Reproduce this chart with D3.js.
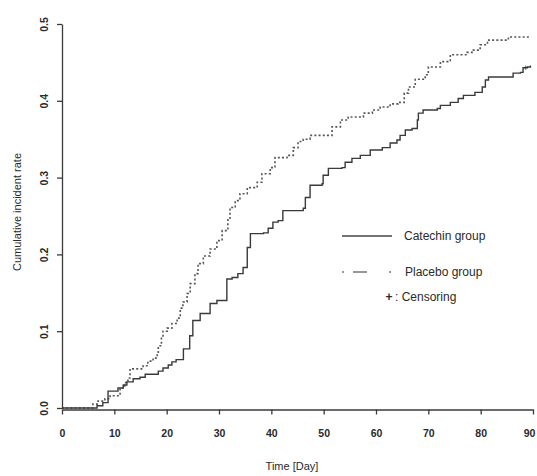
<!DOCTYPE html>
<html>
<head>
<meta charset="utf-8">
<script src="https://cdn.jsdelivr.net/npm/d3@7"></script>
<style>
  body { margin: 0; background: #fff; }
  text { font-family: "Liberation Sans", Arial, sans-serif; fill: #2a2a2a; }
</style>
</head>
<body>
<svg class="km-chart" width="537" height="476"></svg>
<script>
// step points: [day, cumulative incident rate]
var catechinSteps = [
  [0, 0], [6.7, 0.003], [7.8, 0.007], [8.8, 0.022], [10.7, 0.026], [11.7, 0.03],
  [12.4, 0.034], [13.6, 0.038], [14.9, 0.04], [15.9, 0.044], [18.4, 0.048],
  [19.3, 0.052], [20.3, 0.056], [21.0, 0.06], [21.8, 0.063], [23.2, 0.077],
  [24.4, 0.094], [25.0, 0.114], [26.4, 0.123], [28.3, 0.136], [29.6, 0.14],
  [31.5, 0.168], [32.5, 0.17], [33.6, 0.175], [34.6, 0.183], [35.4, 0.209],
  [36.0, 0.227], [38.5, 0.228], [39.4, 0.234], [40.3, 0.242], [41.3, 0.244],
  [42.2, 0.257], [46.1, 0.26], [46.5, 0.274], [47.4, 0.29], [49.7, 0.292],
  [49.9, 0.303], [50.9, 0.312], [53.5, 0.313], [54.1, 0.32], [55.4, 0.325],
  [57.0, 0.329], [58.9, 0.336], [61.2, 0.339], [62.7, 0.345], [64.0, 0.349],
  [64.6, 0.355], [65.6, 0.362], [66.9, 0.364], [67.9, 0.375], [68.1, 0.384],
  [69.0, 0.388], [71.7, 0.39], [72.3, 0.394], [74.2, 0.398], [75.7, 0.403],
  [76.7, 0.407], [78.9, 0.411], [80.3, 0.418], [80.9, 0.427], [81.5, 0.431],
  [86.2, 0.436], [87.6, 0.437], [88.1, 0.443], [88.9, 0.444], [89.5, 0.446]
];
var placeboSteps = [
  [0, 0], [5.9, 0.005], [6.9, 0.009], [8.2, 0.012], [9.2, 0.016], [11.1, 0.026],
  [12.0, 0.033], [12.6, 0.039], [13.0, 0.051], [15.5, 0.055], [16.4, 0.061],
  [17.4, 0.065], [18.2, 0.07], [18.4, 0.081], [19.0, 0.092], [19.3, 0.1],
  [20.1, 0.104], [21.0, 0.11], [22.0, 0.117], [22.6, 0.13], [23.1, 0.138],
  [23.9, 0.149], [24.5, 0.162], [25.4, 0.175], [26.0, 0.188], [27.0, 0.198],
  [28.3, 0.207], [29.6, 0.218], [30.6, 0.231], [31.7, 0.247], [32.1, 0.261],
  [33.1, 0.27], [34.0, 0.279], [35.4, 0.287], [37.3, 0.294], [38.2, 0.305],
  [39.8, 0.313], [40.7, 0.326], [43.0, 0.329], [44.2, 0.339], [45.1, 0.347],
  [46.1, 0.35], [47.4, 0.355], [51.6, 0.366], [53.2, 0.375], [54.7, 0.379],
  [57.6, 0.384], [59.3, 0.388], [60.8, 0.392], [62.7, 0.396], [64.2, 0.398],
  [65.4, 0.41], [66.2, 0.418], [67.5, 0.428], [69.4, 0.434], [70.0, 0.444],
  [72.3, 0.451], [74.2, 0.46], [77.4, 0.463], [78.6, 0.466], [79.9, 0.473],
  [81.3, 0.479], [85.3, 0.483], [89.5, 0.483]
];
var catechinCensor = [[88.6, 0.444]];
var xTicks = [0, 10, 20, 30, 40, 50, 60, 70, 80, 90];
var yTicks = [0, 0.1, 0.2, 0.3, 0.4, 0.5];
var legendLabels = ["Catechin group", "Placebo group", ": Censoring"];

var svg = d3.select(".km-chart");
var x = d3.scaleLinear().domain([0, 90]).range([62, 533]);
var y = d3.scaleLinear().domain([0, 0.5]).range([408, 24]);

// axes
var xAxis = svg.append("g")
  .attr("transform", "translate(0," + (y(0) + 1.5) + ")")
  .call(d3.axisBottom(x).tickValues(xTicks).tickSize(5).tickSizeOuter(0).tickPadding(15));
var yAxis = svg.append("g")
  .attr("transform", "translate(62,0)")
  .call(d3.axisLeft(y).tickValues(yTicks).tickSize(5).tickSizeOuter(0).tickFormat(d3.format(".1f")));

[xAxis, yAxis].forEach(function(a) {
  a.selectAll("path, line").attr("stroke", "#3a3a3a").attr("stroke-width", 1.3);
  a.selectAll("text").attr("font-size", 10.5).attr("font-weight", "bold").attr("fill", "#2a2a2a");
});
// last label sits on the right edge, keep it inside
xAxis.selectAll(".tick text").filter(function(d) { return d === 90; }).attr("dx", -4);
yAxis.selectAll(".tick text")
  .attr("x", null).attr("dy", null)
  .attr("text-anchor", "middle")
  .attr("transform", "translate(-14,0) rotate(-90)");

svg.append("text")
  .attr("transform", "translate(21,212) rotate(-90)")
  .attr("text-anchor", "middle")
  .attr("font-size", 11)
  .text("Cumulative incident rate");
svg.append("text")
  .attr("x", 292).attr("y", 470)
  .attr("text-anchor", "middle")
  .attr("font-size", 11)
  .text("Time [Day]");

// curves
var line = d3.line()
  .curve(d3.curveStepAfter)
  .x(function(d) { return x(d[0]); })
  .y(function(d) { return y(d[1]); });

svg.append("path")
  .datum(placeboSteps)
  .attr("fill", "none")
  .attr("stroke", "#555")
  .attr("stroke-width", 1.6)
  .attr("stroke-dasharray", "2,2.2")
  .attr("d", line);

svg.append("path")
  .datum(catechinSteps)
  .attr("fill", "none")
  .attr("stroke", "#3a3a3a")
  .attr("stroke-width", 1.4)
  .attr("d", line);

svg.selectAll(".censor")
  .data(catechinCensor)
  .enter().append("text")
  .attr("class", "censor")
  .attr("x", function(d) { return x(d[0]); })
  .attr("y", function(d) { return y(d[1]) + 3.5; })
  .attr("text-anchor", "middle")
  .attr("font-size", 9)
  .text("+");

// legend
var lg = svg.append("g");
lg.append("line").attr("x1", 342).attr("x2", 392).attr("y1", 236).attr("y2", 236)
  .attr("stroke", "#444").attr("stroke-width", 1.3);
lg.append("line").attr("x1", 342).attr("x2", 392).attr("y1", 272).attr("y2", 272)
  .attr("stroke", "#777").attr("stroke-width", 1.3)
  .attr("stroke-dasharray", "2,9,14,22,2,100");
lg.append("text").attr("x", 404).attr("y", 240).attr("font-size", 12).text(legendLabels[0]);
lg.append("text").attr("x", 405).attr("y", 276).attr("font-size", 12).text(legendLabels[1]);
lg.append("text").attr("x", 389).attr("y", 301).attr("text-anchor", "middle")
  .attr("font-size", 12).attr("font-weight", "bold").text("+");
lg.append("text").attr("x", 395).attr("y", 301).attr("font-size", 12).text(legendLabels[2]);
</script>
</body>
</html>
